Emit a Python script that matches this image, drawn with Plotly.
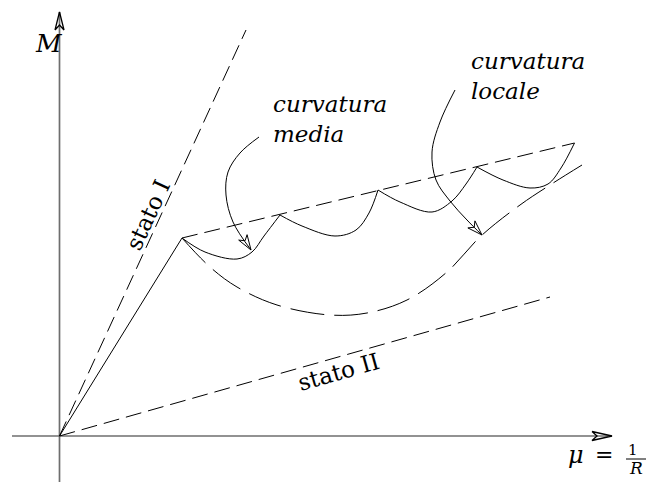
import numpy as np
import plotly.graph_objects as go

# Moment-curvature diagram of a cracked RC member.
# x = curvature mu = 1/R, y = bending moment M (arbitrary units, origin at 0,0)

stato_I_end = [186.5, 406.0]
stato_II_end = [490.5, 139.0]
cracking_point = [122.5, 198.0]
envelope_end = [515.0, 293.0]

# local curvature: scallops between successive cracks (cusps on the upper envelope)
scallop_x = [
    [122.5, 145.5, 177.5, 192.5, 204.5, 220.5],
    [220.5, 242.5, 275.5, 296.5, 309.5, 318.5],
    [318.5, 340.5, 372.5, 392.5, 406.5, 417.5],
    [417.5, 443.5, 470.5, 488.5, 501.5, 515.0],
]
scallop_y = [
    [198.0, 184.0, 177.0, 184.0, 200.0, 221.0],
    [221.0, 210.0, 200.0, 206.0, 223.0, 246.0],
    [246.0, 234.0, 224.0, 235.0, 252.0, 269.0],
    [269.0, 256.0, 248.0, 252.0, 268.0, 293.0],
]

# long-dashed curve below the scallops
mean_x = [122.5, 150.5, 177.5, 217.5, 270.5, 307.5, 347.5, 387.5, 421.5, 460.5, 490.5, 522.5]
mean_y = [198.0, 169.0, 149.0, 131.0, 121.0, 123.0, 136.0, 164.0, 200.0, 231.0, 251.0, 271.0]

# leader arrows for the two labels
media_arrow_x = [199.5, 180.5, 168.5, 166.5, 173.5, 191.5]
media_arrow_y = [299.0, 283.0, 264.0, 241.0, 214.0, 186.0]
locale_arrow_x = [395.5, 380.5, 372.5, 376.5, 390.5, 407.5, 422.5]
locale_arrow_y = [346.0, 314.0, 284.0, 256.0, 235.0, 216.0, 201.0]

# axes extents
x_axis_span = [-47.5, 552.5]
y_axis_span = [-50.0, 424.0]

INK = "black"
AXIS = "#6e6e6e"
TEXT_FONT = "DejaVu Serif"

fig = go.Figure()


def add_line(xs, ys, dash="solid", width=1.0, color=INK, shape="linear"):
    fig.add_trace(go.Scatter(
        x=xs, y=ys, mode="lines",
        line=dict(color=color, width=width, dash=dash, shape=shape),
        hoverinfo="skip", showlegend=False,
    ))


def arrowhead(xs, ys, length, half_w, notch, width=1.0):
    tip = np.array([xs[-1], ys[-1]], dtype=float)
    prev = np.array([xs[-2], ys[-2]], dtype=float)
    d = tip - prev
    d /= np.linalg.norm(d)
    n = np.array([-d[1], d[0]])
    base = tip - d * length
    b1 = base + n * half_w
    b2 = base - n * half_w
    nb = tip - d * (length - notch)
    pts = np.array([b1, tip, b2, nb, b1])
    add_line(pts[:, 0], pts[:, 1], width=width)


# axes
add_line(x_axis_span, [0, 0], width=1.7, color=AXIS)
add_line([0, 0], y_axis_span, width=1.7, color=AXIS)
arrowhead([x_axis_span[0], x_axis_span[1]], [0, 0], 20, 4.5, 5, width=1.3)
arrowhead([0, 0], [y_axis_span[0], y_axis_span[1]], 18, 4.5, 5, width=1.3)

# stato I and stato II lines
add_line([0, stato_I_end[0]], [0, stato_I_end[1]], dash="16px,7px")
add_line([0, stato_II_end[0]], [0, stato_II_end[1]], dash="16px,7px")

# uncracked branch up to cracking
add_line([0, cracking_point[0]], [0, cracking_point[1]])

# upper envelope through the crack cusps
add_line([cracking_point[0], envelope_end[0]], [cracking_point[1], envelope_end[1]], dash="16px,7px")

# scallops
for sx, sy in zip(scallop_x, scallop_y):
    add_line(sx, sy, shape="spline")

# long-dashed curve
add_line(mean_x, mean_y, dash="34px,10px", shape="spline")

# leader arrows
add_line(media_arrow_x, media_arrow_y, shape="spline")
arrowhead(media_arrow_x, media_arrow_y, 15, 5, 4)
add_line(locale_arrow_x, locale_arrow_y, shape="spline")
arrowhead(locale_arrow_x, locale_arrow_y, 15, 5, 4)


def label(x, y, text, size, italic=True, xanchor="left", angle=0):
    fig.add_annotation(
        x=x, y=y, xref="x", yref="y", text=text, showarrow=False,
        xanchor=xanchor, yanchor="middle", textangle=angle, align="left",
        font=dict(family=TEXT_FONT, size=size, color=INK,
                  style="italic" if italic else "normal"),
    )


label(211, 317, "curvatura<br>media", 23)
label(409, 360, "curvatura<br>locale", 23)
label(-11, 392.5, "M", 25, xanchor="center")
label(516.5, -19, "μ", 24, xanchor="center")
label(544.5, -18, "=", 22, italic=False, xanchor="center")
label(573.5, -14, "1", 15, italic=False, xanchor="center")
label(576.5, -32, "R", 17, xanchor="center")
add_line([566.5, 586.5], [-23, -23], width=1.0)

angle_I = -np.degrees(np.arctan2(stato_I_end[1], stato_I_end[0]))
angle_II = -np.degrees(np.arctan2(stato_II_end[1], stato_II_end[0]))
label(88.5, 221, "stato I", 23, italic=False, xanchor="center", angle=angle_I)
label(278.5, 64, "stato II", 23, italic=False, xanchor="center", angle=angle_II)

fig.update_layout(
    width=650, height=482,
    margin=dict(l=0, r=0, t=0, b=0),
    paper_bgcolor="white", plot_bgcolor="white",
    xaxis=dict(range=[-59.5, 590.5], visible=False, fixedrange=True),
    yaxis=dict(range=[-46, 436], visible=False, fixedrange=True),
    hovermode=False, showlegend=False,
)

fig.write_html("out.html", config={"displayModeBar": False})
